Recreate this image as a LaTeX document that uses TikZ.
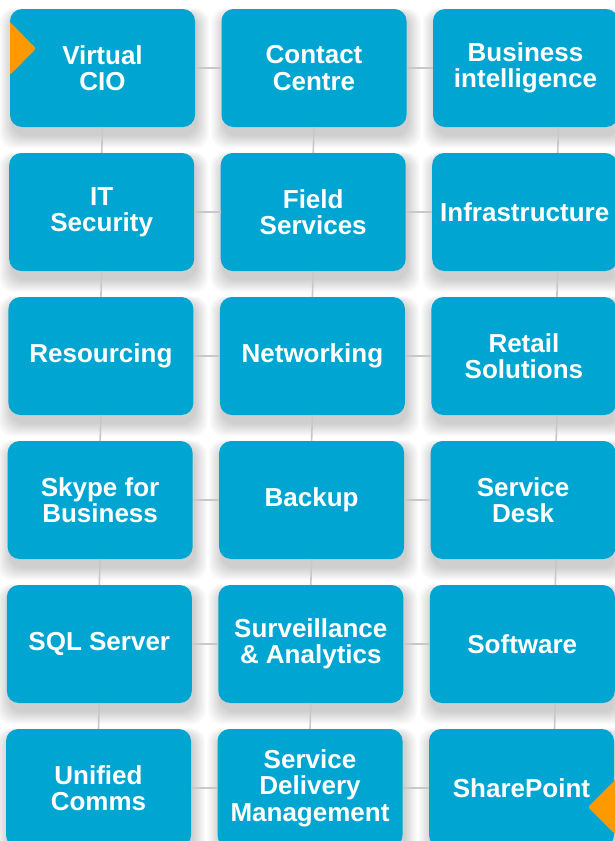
\documentclass[tikz,border=0pt]{standalone}
\usepackage{fontspec}
\setmainfont{Liberation Sans}
\pgfdeclarelayer{bg}
\pgfsetlayers{bg,main}
\definecolor{cblue}{HTML}{00A6D1}
\definecolor{corange}{HTML}{FF9900}
\definecolor{cline}{HTML}{C8C8C8}
\tikzset{
  tile/.style={rectangle, rounded corners=12pt, fill=cblue, draw=none,
    minimum width=185pt, minimum height=118pt, inner sep=0pt,
    text=white, align=center,
    font=\fontsize{26}{26.5}\selectfont\bfseries},
  shade layer/.style={fill=black, opacity=0.016, rounded corners=14pt},
  link/.style={draw=cline, line width=1.6pt},
  flag/.style={fill=corange, draw=none}
}
\begin{document}
\begin{tikzpicture}[x=1pt, y=-1pt]
\useasboundingbox (0,0) rectangle (614,841);
\begin{pgfonlayer}{bg}
\fill[white] (0,0) rectangle (614,841);
\end{pgfonlayer}
% row 1
\node[tile] (vcio)       at (102.5,68) {Virtual\\CIO};
\node[tile] (contact)    at (314.0,68) {Contact\\Centre};
\node[tile] (bi)         at (525.5,68) {Business\\intelligence};
% row 2
\node[tile] (itsec)      at (101.7,212) {IT\\Security};
\node[tile] (field)      at (313.2,212) {Field\\Services};
\node[tile] (infra)      at (524.7,212) {Infrastructure};
% row 3
\node[tile] (resourcing) at (100.9,356) {Resourcing};
\node[tile] (networking) at (312.4,356) {Networking};
\node[tile] (retail)     at (523.9,356) {Retail\\Solutions};
% row 4
\node[tile] (skype)      at (100.1,500) {Skype for\\Business};
\node[tile] (backup)     at (311.6,500) {Backup};
\node[tile] (sdesk)      at (523.1,500) {Service\\Desk};
% row 5
\node[tile] (sql)        at (99.3,644) {SQL Server};
\node[tile] (surv)       at (310.8,644) {Surveillance\\\& Analytics};
\node[tile] (software)   at (522.3,644) {Software};
% row 6
\node[tile] (unified)    at (98.5,788) {Unified\\Comms};
\node[tile] (sdm)        at (310.0,788) {Service\\Delivery\\Management};
\node[tile] (sharepoint) at (521.5,788) {SharePoint};
% soft shadows
\begin{pgfonlayer}{bg}
\foreach \n in {vcio,contact,bi,itsec,field,infra,resourcing,networking,retail,
  skype,backup,sdesk,sql,surv,software,unified,sdm,sharepoint}
  \foreach \i in {0,...,11}
    \path[shade layer] ([xshift=2pt-1.1*\i pt, yshift=-9pt-1.1*\i pt]\n.south west)
      rectangle ([xshift=2pt+1.1*\i pt, yshift=-5pt+0.5*\i pt]\n.north east);
\end{pgfonlayer}
% horizontal links
\foreach \a/\b in {vcio/contact, contact/bi, itsec/field, field/infra,
  resourcing/networking, networking/retail, skype/backup, backup/sdesk,
  sql/surv, surv/software, unified/sdm, sdm/sharepoint}
  \path[link] (\a.east) -- (\b.west);
% vertical links, columns 1 and 2
\foreach \a/\b in {vcio/itsec, itsec/resourcing, resourcing/skype, skype/sql, sql/unified,
  contact/field, field/networking, networking/backup, backup/surv, surv/sdm}
  \path[link] (\a.south) -- (\b.north);
% vertical links, column 3 (off centre)
\foreach \a/\b in {bi/infra, infra/retail, retail/sdesk, sdesk/software, software/sharepoint}
  \path[link] ([xshift=33pt]\a.south) -- ([xshift=33pt]\b.north);
% orange markers
\path[flag, rounded corners=2pt] (10,22) -- (36,48.5) -- (10,75) [sharp corners] -- cycle;
\path[flag, rounded corners=2pt] (620,775) -- (588,807) -- (620,839) [sharp corners] -- cycle;
\end{tikzpicture}
\end{document}
